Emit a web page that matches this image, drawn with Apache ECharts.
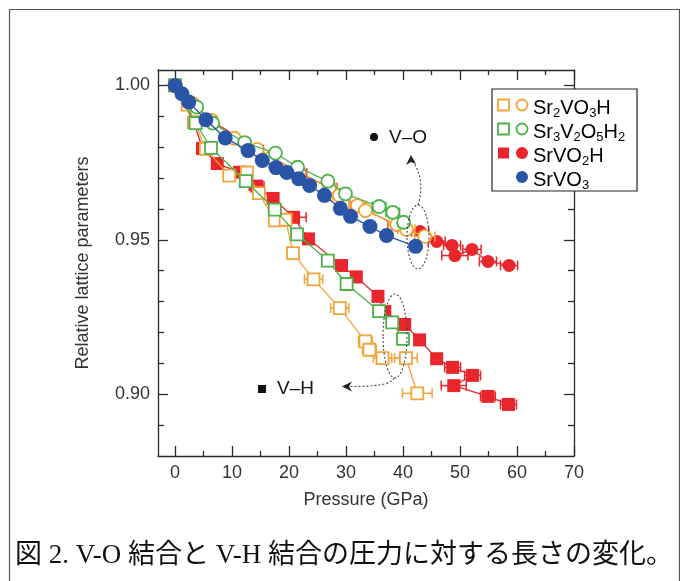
<!DOCTYPE html>
<html><head><meta charset="utf-8">
<script src="https://cdn.jsdelivr.net/npm/echarts@6/dist/echarts.min.js"></script>
<style>html,body{margin:0;padding:0;background:#fff}#c{width:680px;height:581px}</style>
</head><body><div id="c"></div>
<script>
// ---- data (pressure in GPa, relative lattice parameter) ----
const xTickLabels = [0, 10, 20, 30, 40, 50, 60, 70];
const xMinorTicks = [5, 15, 25, 35, 45, 55, 65];
const yTickLabels = [0.90, 0.95, 1.00];
const yMinorTicks = [0.89, 0.91, 0.92, 0.93, 0.94, 0.96, 0.97, 0.98, 0.99];

// V-O (circles)
const blueX = [0, 1.2, 2.4, 5.4, 8.8, 12.8, 15.3, 17.7, 19.6, 21.7, 23.6, 26.2, 29.0, 30.8, 34.2, 37.1, 42.2];
const blueY = [1.000, 0.9973, 0.9946, 0.9889, 0.9830, 0.9789, 0.9757, 0.9734, 0.9718, 0.9698, 0.9676, 0.9644, 0.9602, 0.9576, 0.9543, 0.9514, 0.9479];

const orangeCircX = [0, 3.0, 6.4, 10.4, 14.4, 16.9, 21.8, 27.1, 28.8, 32.0, 33.4, 38.9, 40.6, 43.8];
const orangeCircY = [1.000, 0.9942, 0.9887, 0.9829, 0.9793, 0.9767, 0.9718, 0.9670, 0.9644, 0.9611, 0.9595, 0.9550, 0.9534, 0.9511];
const orangeCircErr = [0, 0, 0, 0, 0, 0, 0, 1.2, 1.2, 1.5, 1.5, 1.5, 1.5, 1.8];

const greenCircX = [0, 3.8, 6.6, 12.2, 17.6, 21.5, 26.8, 29.9, 35.8, 38.2, 40.1];
const greenCircY = [1.000, 0.9930, 0.9878, 0.9815, 0.9781, 0.9735, 0.9690, 0.9649, 0.9608, 0.9589, 0.9557];
const greenCircErr = [0, 0, 0, 0, 0, 0, 0, 0, 1.2, 1.2, 1.0];

const redCircX = [0, 3.1, 6.5, 14.5, 21.9, 27.2, 32.1, 38.8, 43.0, 45.9, 48.6, 49.1, 52.1, 54.9, 58.6];
const redCircY = [1.000, 0.9941, 0.9885, 0.9792, 0.9716, 0.9668, 0.9609, 0.9548, 0.9527, 0.9495, 0.9482, 0.9449, 0.9469, 0.9430, 0.9417];
const redCircErr = [0, 0.9, 0.9, 1.0, 1.2, 1.2, 1.3, 1.5, 1.5, 1.5, 1.5, 2.3, 1.6, 1.5, 1.5];

// V-H (squares)
const redSqX = [0, 3.3, 4.8, 7.4, 11.3, 14.3, 17.2, 20.8, 23.4, 29.2, 31.8, 35.6, 36.8, 40.3, 42.9, 45.9, 48.7, 52.2, 48.9, 54.9, 58.5];
const redSqY = [1.000, 0.9880, 0.9796, 0.9747, 0.9719, 0.9674, 0.9634, 0.9573, 0.9503, 0.9417, 0.9380, 0.9317, 0.9268, 0.9226, 0.9176, 0.9115, 0.9087, 0.9061, 0.9028, 0.8993, 0.8967];
const redSqErr = [0, 0, 0, 0, 0, 1.3, 0, 2.2, 0, 0, 0, 0, 0, 0, 0, 0, 1.4, 1.4, 2.2, 1.3, 1.4];

const orangeSqX = [0, 2.2, 3.4, 5.4, 9.5, 12.6, 14.7, 17.5, 19.4, 20.7, 24.3, 28.9, 33.4, 34.1, 36.4, 40.5, 42.5];
const orangeSqY = [1.000, 0.9938, 0.9881, 0.9795, 0.9708, 0.9718, 0.9651, 0.9563, 0.9565, 0.9457, 0.9372, 0.9279, 0.9171, 0.9144, 0.9117, 0.9117, 0.9003];
const orangeSqErr = [0, 0, 0, 0, 0, 0, 0, 0, 0, 0.9, 1.6, 1.6, 1.2, 1.2, 1.6, 2.0, 2.6];

const greenSqX = [0, 3.6, 6.3, 12.4, 17.5, 21.4, 26.8, 30.1, 35.8, 38.1, 40.0];
const greenSqY = [1.000, 0.9878, 0.9798, 0.9690, 0.9598, 0.9518, 0.9433, 0.9357, 0.9269, 0.9233, 0.9179];
const greenSqErr = [0, 0, 0, 0, 0, 0, 0, 0, 0, 0, 1.0];

const C = { orange: '#F2A33A', green: '#4DB24A', red: '#E8262B', blue: '#2A55A6' };
const FONT = "'Liberation Sans', Arial, sans-serif";

function pts(xs, ys) { return xs.map((x, i) => [x, ys[i]]); }
function errPts(xs, ys, es) { return xs.map((x, i) => [x, ys[i], es[i]]).filter(d => d[2] > 0); }

function lineSeries(name, xs, ys, color, symbol, size, filled, z) {
  return {
    type: 'line', name, data: pts(xs, ys), symbol, symbolSize: size, z,
    showSymbol: true, animation: false,
    lineStyle: { color, width: 1.3 },
    itemStyle: { color: filled ? color : '#fff', borderColor: color, borderWidth: filled ? 0 : 1.8, opacity: 1 },
    emphasis: { disabled: true }
  };
}
function errSeries(xs, ys, es, color, z) {
  return {
    type: 'custom', data: errPts(xs, ys, es), z, animation: false,
    encode: { x: 0, y: 1 },
    renderItem(params, api) {
      const x = api.value(0), y = api.value(1), e = api.value(2);
      const a = api.coord([x - e, y]), b = api.coord([x + e, y]);
      const h = 5, st = { stroke: color, lineWidth: 1.5 };
      return { type: 'group', children: [
        { type: 'line', shape: { x1: a[0], y1: a[1], x2: b[0], y2: b[1] }, style: st },
        { type: 'line', shape: { x1: a[0], y1: a[1] - h, x2: a[0], y2: a[1] + h }, style: st },
        { type: 'line', shape: { x1: b[0], y1: b[1] - h, x2: b[0], y2: b[1] + h }, style: st }
      ]};
    }
  };
}

const axisCol = '#2a2a2a';
function xAx(position, ticks, len, labels, line) {
  return {
    type: 'value', position, min: -3, max: 70,
    axisLine: { show: line, onZero: false, lineStyle: { color: axisCol, width: 1.3 } },
    axisTick: { show: true, inside: true, length: len, customValues: ticks, lineStyle: { color: axisCol, width: 1.3 } },
    axisLabel: labels ? { show: true, customValues: ticks, fontSize: 18, color: '#333', fontFamily: FONT, margin: 8 } : { show: false },
    splitLine: { show: false }
  };
}
function yAx(position, ticks, len, labels, line) {
  return {
    type: 'value', position, min: 0.88, max: 1.005,
    axisLine: { show: line, onZero: false, lineStyle: { color: axisCol, width: 1.3 } },
    axisTick: { show: true, inside: true, length: len, customValues: ticks, lineStyle: { color: axisCol, width: 1.3 } },
    axisLabel: labels ? { show: true, customValues: ticks, fontSize: 18, color: '#333', fontFamily: FONT, margin: 8, formatter: v => v.toFixed(2) } : { show: false },
    splitLine: { show: false }
  };
}

const xAxes = [xAx('bottom', xTickLabels, 10, true, true), xAx('bottom', xMinorTicks, 5, false, false),
               xAx('top', xTickLabels, 10, false, true), xAx('top', xMinorTicks, 5, false, false)];
xAxes[0].name = 'Pressure (GPa)'; xAxes[0].nameLocation = 'middle'; xAxes[0].nameGap = 35;
xAxes[0].nameTextStyle = { fontSize: 18, color: '#333', fontFamily: FONT };
const yAxes = [yAx('left', yTickLabels, 10, true, true), yAx('left', yMinorTicks, 6, false, false),
               yAx('right', yTickLabels, 10, false, true), yAx('right', yMinorTicks, 6, false, false)];
yAxes[0].name = 'Relative lattice parameters'; yAxes[0].nameLocation = 'middle'; yAxes[0].nameGap = 66;
yAxes[0].nameTextStyle = { fontSize: 18, color: '#333', fontFamily: FONT };

const series = [
  errSeries(redCircX, redCircY, redCircErr, C.red, 2),
  lineSeries('SrVO2H-c', redCircX, redCircY, C.red, 'circle', 13, true, 2),
  errSeries(orangeCircX, orangeCircY, orangeCircErr, C.orange, 3),
  lineSeries('Sr2VO3H-c', orangeCircX, orangeCircY, C.orange, 'circle', 13, false, 3),
  errSeries(greenCircX, greenCircY, greenCircErr, C.green, 4),
  lineSeries('Sr3V2O5H2-c', greenCircX, greenCircY, C.green, 'circle', 13, false, 4),
  lineSeries('SrVO3', blueX, blueY, C.blue, 'circle', 15, true, 5),
  errSeries(redSqX, redSqY, redSqErr, C.red, 2),
  lineSeries('SrVO2H-s', redSqX, redSqY, C.red, 'rect', 13, true, 2),
  errSeries(orangeSqX, orangeSqY, orangeSqErr, C.orange, 3),
  lineSeries('Sr2VO3H-s', orangeSqX, orangeSqY, C.orange, 'rect', 12, false, 3),
  errSeries(greenSqX, greenSqY, greenSqErr, C.green, 4),
  lineSeries('Sr3V2O5H2-s', greenSqX, greenSqY, C.green, 'rect', 12, false, 4)
];

// legend (drawn as graphics)
const legendRows = [
  { y: 105, sq: 'open', circ: 'open', color: C.orange, text: '{n|Sr}{s|2}{n|VO}{s|3}{n|H}' },
  { y: 129, sq: 'open', circ: 'open', color: C.green, text: '{n|Sr}{s|3}{n|V}{s|2}{n|O}{s|5}{n|H}{s|2}' },
  { y: 153, sq: 'fill', circ: 'fill', color: C.red, text: '{n|SrVO}{s|2}{n|H}' },
  { y: 177, sq: null, circ: 'fill', color: C.blue, text: '{n|SrVO}{s|3}' }
];
const rich = { n: { fontSize: 20, fontFamily: FONT, color: '#111' }, s: { fontSize: 13, fontFamily: FONT, color: '#111', padding: [11, 0, 0, 0] } };
const graphics = [
  { type: 'rect', left: 7, top: 7, shape: { x: 0, y: 0, width: 670, height: 600 }, style: { fill: 'none', stroke: '#555', lineWidth: 1.2 }, z: 50 },
  { type: 'rect', shape: { x: 492, y: 89, width: 145, height: 102 }, style: { fill: '#fff', stroke: '#222', lineWidth: 1.2 }, z: 100 }
];
legendRows.forEach(r => {
  if (r.sq) graphics.push({ type: 'rect', shape: { x: 498, y: r.y - 5.5, width: 11, height: 11 }, style: { fill: r.sq === 'fill' ? r.color : '#fff', stroke: r.color, lineWidth: r.sq === 'fill' ? 0 : 1.8 }, z: 101 });
  graphics.push({ type: 'circle', shape: { cx: 522, cy: r.y, r: r.circ === 'fill' ? 6 : 5.5 }, style: { fill: r.circ === 'fill' ? r.color : '#fff', stroke: r.color, lineWidth: r.circ === 'fill' ? 0 : 1.8 }, z: 101 });
  graphics.push({ type: 'text', x: 533, y: r.y + 3, style: { text: r.text, rich, verticalAlign: 'middle', align: 'left' }, z: 101 });
});
// annotations
const annStyle = { fill: 'none', stroke: '#444', lineWidth: 1.1, lineDash: [2, 2] };
graphics.push(
  { type: 'circle', shape: { cx: 374, cy: 137, r: 4 }, style: { fill: '#111' }, z: 60 },
  { type: 'text', x: 389, y: 138, style: { text: 'V–O', font: '19px ' + FONT, fill: '#111', verticalAlign: 'middle' }, z: 60 },
  { type: 'rect', shape: { x: 258, y: 385, width: 8, height: 8 }, style: { fill: '#111' }, z: 60 },
  { type: 'text', x: 277, y: 389, style: { text: 'V–H', font: '19px ' + FONT, fill: '#111', verticalAlign: 'middle' }, z: 60 },
  { type: 'ellipse', shape: { cx: 418, cy: 237, rx: 11, ry: 32 }, style: annStyle, z: 60 },
  { type: 'bezierCurve', shape: { x1: 418, y1: 205, x2: 412, y2: 160, cpx1: 426, cpy1: 180 }, style: annStyle, z: 60 },
  { type: 'polygon', shape: { points: [[411, 155], [406, 165], [411, 162], [416, 164]] }, style: { fill: '#222' }, z: 60 },
  { type: 'ellipse', shape: { cx: 395, cy: 336, rx: 12, ry: 42 }, style: annStyle, z: 60 },
  { type: 'bezierCurve', shape: { x1: 394, y1: 378, x2: 348, y2: 386.5, cpx1: 392, cpy1: 387 }, style: annStyle, z: 60 },
  { type: 'polygon', shape: { points: [[342, 386.5], [352, 381.5], [349, 386.5], [352, 391.5]] }, style: { fill: '#222' }, z: 60 },
  { type: 'text', x: 344, y: 556, style: { text: '図 2. V-O 結合と V-H 結合の圧力に対する長さの変化。', font: "27px 'Liberation Serif', 'Noto Sans CJK JP', serif", fill: '#111', align: 'center', verticalAlign: 'middle' }, z: 60 }
);

const chart = echarts.init(document.getElementById('c'), null, { renderer: 'canvas' });
chart.setOption({
  animation: false,
  grid: { left: 158, top: 70, right: 106, bottom: 125, containLabel: false },
  xAxis: xAxes,
  yAxis: yAxes,
  series,
  graphic: graphics
});
</script></body></html>
